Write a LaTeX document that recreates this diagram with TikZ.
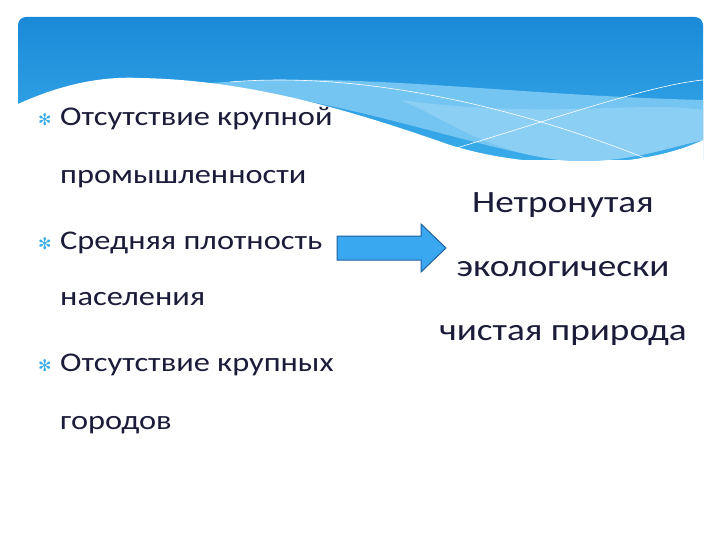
\documentclass[tikz,border=0pt]{standalone}
\usepackage{fontspec}
\setmainfont[FakeStretch=1.2]{Carlito}
\newfontfamily\symfont{DejaVu Sans}
\definecolor{txt}{HTML}{1B1B3A}
\definecolor{bdark}{HTML}{1A8AD8}
\definecolor{bmid}{HTML}{3AACEA}
\definecolor{blight}{HTML}{8CCFF4}
\definecolor{arrowfill}{HTML}{3AA8F0}
\definecolor{arrowline}{HTML}{1F5F9F}
\begin{document}
\begin{tikzpicture}[x=1pt,y=-1pt,
  lefttext/.style={anchor=base west,text=txt,font=\fontsize{27}{30}\selectfont,inner sep=0},
  righttext/.style={anchor=base,text=txt,font=\fontsize{31}{36}\selectfont,inner sep=0},
  bul/.style={anchor=base west,text=bmid,font=\symfont\fontsize{16}{18}\selectfont,inner sep=0}]
\useasboundingbox (0,0) rectangle (720,540);
\fill[white] (0,0) rectangle (720,540);
% banner
\shade[top color=bdark,bottom color=bmid,rounded corners=8pt] (18,160) -- (18,17) -- (703,17) [sharp corners] -- (703,160) -- cycle;
\fill[blight!70!bmid] (200,84) .. controls (350,70) and (500,95) .. (703,100) -- (703,140) .. controls (660,150) and (620,165) .. (560,160) .. controls (480,150) and (350,100) .. cycle;
\fill[blight] (400,100) .. controls (550,120) and (640,100) .. (703,110) -- (703,140) .. controls (660,150) and (620,165) .. (560,160) .. controls (480,150) and (450,120) .. cycle;
\fill[white] (18,104) .. controls (60,85) and (100,76) .. (140,78) .. controls (250,80) and (350,110) .. (450,145) .. controls (530,170) and (640,170) .. (703,140) -- (703,200) -- (18,200) -- cycle;
\draw[white,line width=0.6pt] (230,82) .. controls (350,72) and (500,100) .. (650,160);
\draw[white,line width=0.6pt] (450,150) .. controls (550,120) and (650,85) .. (703,80);
% left bullets
\node[bul] (b1) at (38,126) {✻};
\node[lefttext] (t1) at (60,126) {Отсутствие крупной};
\node[lefttext] (t1b) at (60,184) {промышленности};
\node[bul] (b2) at (38,249) {✻};
\node[lefttext] (t2) at (60,249) {Средняя плотность};
\node[lefttext] (t2b) at (60,305) {населения};
\node[bul] (b3) at (38,371) {✻};
\node[lefttext] (t3) at (60,371) {Отсутствие крупных};
\node[lefttext] (t3b) at (60,429) {городов};
% arrow
\draw[fill=arrowfill,draw=arrowline,line width=1pt] (337,236) -- (421,236) -- (421,224) -- (446,248) -- (421,272) -- (421,260) -- (337,260) -- cycle;
% right text
\node[righttext] (r1) at (563,213) {Нетронутая};
\node[righttext] (r2) at (563,276) {экологически};
\node[righttext] (r3) at (563,340) {чистая природа};
\end{tikzpicture}
\end{document}
